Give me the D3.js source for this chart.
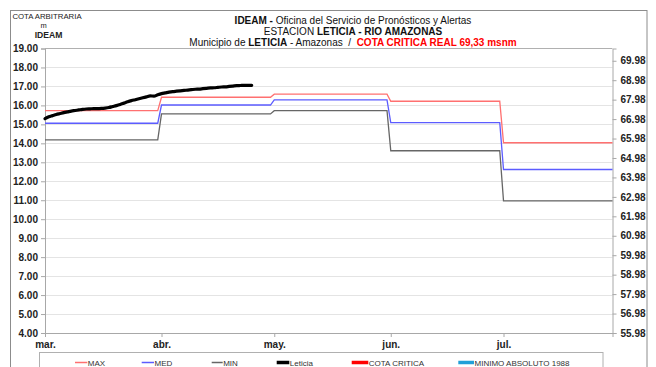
<!DOCTYPE html>
<html>
<head>
<meta charset="utf-8">
<script src="https://cdn.jsdelivr.net/npm/d3@7/dist/d3.min.js"></script>
<style>
  html, body { margin: 0; padding: 0; background: #fff; }
  svg { display: block; font-family: "Liberation Sans", Arial, sans-serif; }
</style>
</head>
<body>
<svg id="chart" width="656" height="367"></svg>
<script>
// Monthly level bands (m, arbitrary gauge datum) for the Leticia station
const monthStarts = ["2013-03-01", "2013-04-01", "2013-05-01", "2013-06-01", "2013-07-01"];
const monthLabels = ["mar.", "abr.", "may.", "jun.", "jul."];
const maxCota = [15.72, 16.43, 16.59, 16.22, 14.03];
const medCota = [15.06, 16.02, 16.29, 15.09, 12.62];
const minCota = [14.18, 15.55, 15.72, 13.61, 10.97];

// Daily observed level at Leticia, starting 1 March
const leticiaStart = "2013-03-01";
const leticiaCota = [
  15.30, 15.40, 15.46, 15.52, 15.57, 15.62, 15.66, 15.70, 15.73, 15.76,
  15.79, 15.81, 15.82, 15.83, 15.83, 15.84, 15.86, 15.89, 15.94, 15.99,
  16.05, 16.12, 16.19, 16.25, 16.30, 16.35, 16.40, 16.45, 16.50, 16.49,
  16.56, 16.62, 16.66, 16.70, 16.73, 16.75, 16.77, 16.79, 16.81, 16.83,
  16.85, 16.86, 16.88, 16.90, 16.92, 16.93, 16.95, 16.97, 16.98, 17.00,
  17.02, 17.04, 17.05, 17.06, 17.06, 17.06
];

// Axis ticks
const leftTicks = [4, 5, 6, 7, 8, 9, 10, 11, 12, 13, 14, 15, 16, 17, 18, 19];
const rightTicks = [55.98, 56.98, 57.98, 58.98, 59.98, 60.98, 61.98, 62.98, 63.98,
                    64.98, 65.98, 66.98, 67.98, 68.98, 69.98];
const rightDomain = [55.98, 70.61];
const dateDomain = ["2013-03-01", "2013-07-30"];

// Legend entries
const legendNames = ["MAX", "MED", "MIN", "Leticia", "COTA CRITICA", "MINIMO ABSOLUTO 1988"];

const style = {
  "MAX":     { color: "#ff7070", width: 1.3 },
  "MED":     { color: "#5c5cff", width: 1.3 },
  "MIN":     { color: "#666666", width: 1.3 },
  "Leticia": { color: "#000000", width: 3.2 },
  "COTA CRITICA": { color: "#ff0000", width: 3.5 },
  "MINIMO ABSOLUTO 1988": { color: "#22a0d8", width: 3.5 }
};

const parse = d3.utcParse("%Y-%m-%d");
const svg = d3.select("#chart");

const plot = { left: 45, right: 612.5, top: 48.5, bottom: 333 };

const x = d3.scaleUtc()
  .domain(dateDomain.map(parse))
  .range([plot.left, plot.right]);
const y = d3.scaleLinear().domain([4, 19]).range([plot.bottom, plot.top]);
const yRight = d3.scaleLinear().domain(rightDomain).range([plot.bottom, plot.top]);

// Outer frame
svg.append("rect")
  .attr("x", 10.5).attr("y", 10.5)
  .attr("width", 636.5).attr("height", 380)
  .attr("fill", "none").attr("stroke", "#8c8c8c").attr("stroke-width", 1);

// Gridlines
svg.append("g")
  .selectAll("line")
  .data(leftTicks.filter(t => t > 4 && t < 19))
  .join("line")
  .attr("x1", plot.left).attr("x2", plot.right)
  .attr("y1", d => Math.round(y(d)) + 0.5).attr("y2", d => Math.round(y(d)) + 0.5)
  .attr("stroke", "#e4e4e4").attr("stroke-width", 1);

// Plot border (top edge)
svg.append("line")
  .attr("x1", plot.left).attr("x2", plot.right)
  .attr("y1", plot.top).attr("y2", plot.top)
  .attr("stroke", "#b0b0b0");

// Left axis
const leftAxis = svg.append("g")
  .attr("transform", `translate(${plot.left},0)`)
  .call(d3.axisLeft(y).tickValues(leftTicks).tickFormat(d3.format(".2f")).tickSize(4).tickPadding(3));

// Right axis
const rightAxis = svg.append("g")
  .attr("transform", `translate(${plot.right},0)`)
  .call(d3.axisRight(yRight).tickValues(rightTicks).tickFormat(d3.format(".2f")).tickSize(4).tickPadding(4));

// Bottom axis
const monthDates = monthStarts.map(parse);
const bottomAxis = svg.append("g")
  .attr("transform", `translate(0,${plot.bottom})`)
  .call(d3.axisBottom(x).tickValues(monthDates)
    .tickFormat((d, i) => monthLabels[i]).tickSize(4).tickPadding(4));

[leftAxis, rightAxis, bottomAxis].forEach(g => {
  g.select(".domain").attr("stroke", "#a8a8a8");
  g.selectAll(".tick line").attr("stroke", "#a8a8a8");
  g.selectAll(".tick text")
    .attr("fill", "#222")
    .style("font-size", "10px")
    .style("font-weight", "bold")
    .style("font-family", "'Liberation Sans', Arial, sans-serif");
});

// Build step series from monthly bands
const endDate = parse(dateDomain[1]);
function bandSeries(values) {
  const pts = [];
  values.forEach((v, i) => {
    const start = monthDates[i];
    const end = i < values.length - 1 ? d3.utcDay.offset(monthDates[i + 1], -1) : endDate;
    pts.push([start, v], [end, v]);
  });
  return pts;
}

const line = d3.line().x(d => x(d[0])).y(d => y(d[1]));

const bands = [["MIN", minCota], ["MED", medCota], ["MAX", maxCota]];
bands.forEach(([name, vals]) => {
  svg.append("path")
    .datum(bandSeries(vals))
    .attr("fill", "none")
    .attr("stroke", style[name].color)
    .attr("stroke-width", style[name].width)
    .attr("d", line);
});

const start = parse(leticiaStart);
const leticiaPts = leticiaCota.map((v, i) => [d3.utcDay.offset(start, i), v]);
svg.append("path")
  .datum(leticiaPts)
  .attr("fill", "none")
  .attr("stroke", style["Leticia"].color)
  .attr("stroke-width", style["Leticia"].width)
  .attr("stroke-linejoin", "round")
  .attr("stroke-linecap", "round")
  .attr("d", d3.line().curve(d3.curveMonotoneX).x(d => x(d[0])).y(d => y(d[1])));

// Titles
const title = svg.append("g").attr("font-size", 10).attr("fill", "#111");
const t1 = title.append("text").attr("x", 353).attr("y", 24).attr("text-anchor", "middle");
t1.append("tspan").attr("font-weight", "bold").text("IDEAM - ");
t1.append("tspan").text("Oficina del Servicio de Pronósticos y Alertas");
const t2 = title.append("text").attr("x", 353).attr("y", 35).attr("text-anchor", "middle");
t2.append("tspan").text("ESTACION ");
t2.append("tspan").attr("font-weight", "bold").text("LETICIA - RIO AMAZONAS");
const t3 = title.append("text").attr("x", 353).attr("y", 46).attr("text-anchor", "middle");
t3.append("tspan").text("Municipio de ");
t3.append("tspan").attr("font-weight", "bold").text("LETICIA");
t3.append("tspan").text(" - Amazonas\u00a0\u00a0/\u00a0\u00a0");
t3.append("tspan").attr("font-weight", "bold").attr("fill", "#ff0000").text("COTA CRITICA REAL 69,33 msnm");

// Left axis caption
const cap = svg.append("g").attr("fill", "#222").attr("text-anchor", "middle");
cap.append("text").attr("x", 47).attr("y", 18.5).attr("font-size", 7.8).text("COTA ARBITRARIA");
cap.append("text").attr("x", 43.5).attr("y", 27.5).attr("font-size", 7.5).text("m");
cap.append("text").attr("x", 48.5).attr("y", 37.5).attr("font-size", 8.6).attr("font-weight", "bold").text("IDEAM");

// Legend
svg.append("rect")
  .attr("x", 39.5).attr("y", 352.5).attr("width", 563.5).attr("height", 30)
  .attr("fill", "#fff").attr("stroke", "#b0b0b0");

const legendX = d3.scalePoint().domain(legendNames).range([0, 5]);
const legendLineStart = [75, 141.7, 211.7, 276.7, 351.7, 458.3];
const legendLineEnd = [87.3, 154, 222.7, 289.3, 368.3, 474];
const lg = svg.append("g");
legendNames.forEach((name) => {
  const k = legendX(name);
  lg.append("line")
    .attr("x1", legendLineStart[k]).attr("x2", legendLineEnd[k])
    .attr("y1", 362.5).attr("y2", 362.5)
    .attr("stroke", style[name].color)
    .attr("stroke-width", name === "MAX" || name === "MED" || name === "MIN" ? 1.5 : 3.5);
  lg.append("text")
    .attr("x", legendLineEnd[k] + 0.5).attr("y", 365.5)
    .attr("font-size", 8).attr("fill", "#333")
    .text(name);
});
</script>
</body>
</html>
